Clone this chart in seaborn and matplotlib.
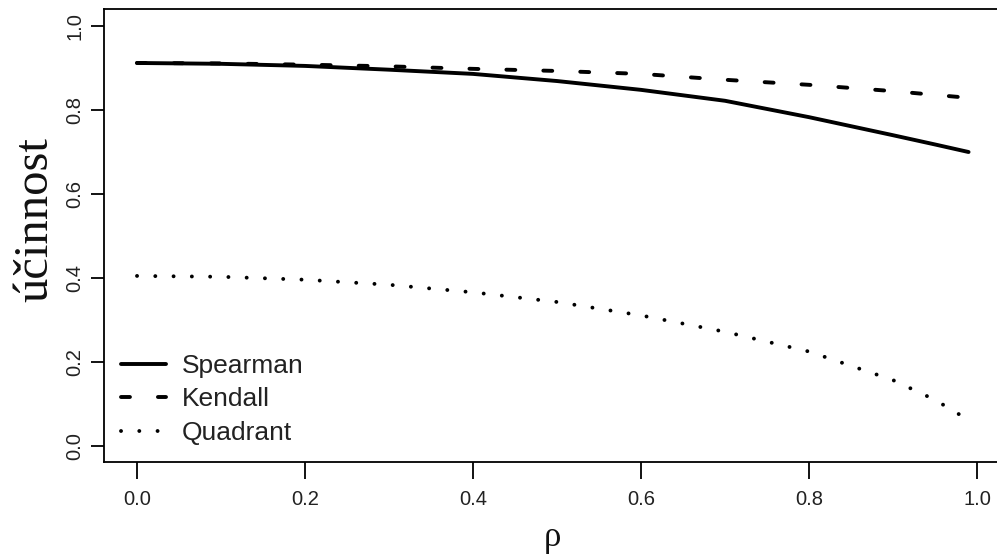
import numpy as np
import pandas as pd
import matplotlib
matplotlib.use("Agg")
import matplotlib.pyplot as plt
import seaborn as sns

# ---- data ----
rho = [0.0, 0.1, 0.2, 0.3, 0.4, 0.5, 0.6, 0.7, 0.8, 0.9, 0.95, 0.99]
spearman = [0.912, 0.910, 0.905, 0.896, 0.886, 0.869, 0.848, 0.822, 0.783, 0.740, 0.718, 0.700]
kendall = [0.912, 0.911, 0.908, 0.904, 0.898, 0.893, 0.886, 0.872, 0.860, 0.845, 0.836, 0.829]
quadrant = [0.405, 0.403, 0.396, 0.384, 0.366, 0.343, 0.311, 0.272, 0.225, 0.157, 0.110, 0.062]
methods = ["Spearman", "Kendall", "Quadrant"]
xticks = [0.0, 0.2, 0.4, 0.6, 0.8, 1.0]
xtick_labels = ["0.0", "0.2", "0.4", "0.6", "0.8", "1.0"]
yticks = [0.0, 0.2, 0.4, 0.6, 0.8, 1.0]
ytick_labels = ["0.0", "0.2", "0.4", "0.6", "0.8", "1.0"]
ylabel = "účinnost"
xlabel = "ρ"

df = pd.DataFrame({
    "rho": rho * 3,
    "value": spearman + kendall + quadrant,
    "method": [m for m, s in zip(methods, [spearman, kendall, quadrant]) for _ in s],
})

sns.set_style("ticks")
plt.rcParams["font.family"] = ["Liberation Sans", "DejaVu Sans"]

fig = plt.figure(figsize=(9.97, 5.55), dpi=100)
ax = fig.add_axes([104 / 997, 93 / 555, (1002 - 104) / 997, (462 - 9) / 555])

dash_map = {"Spearman": "", "Kendall": (2.3, 7.2), "Quadrant": (0.01, 4.69)}
sns.lineplot(data=df, x="rho", y="value", style="method", style_order=methods,
             dashes=dash_map, color="black", linewidth=2.8, ax=ax, legend=True)

for ln in ax.get_lines():
    ln.set_dash_capstyle("round")
    ln.set_solid_capstyle("round")
    ln.set_solid_joinstyle("round")

ax.set_xlim(-0.0393, 1.0298)
ax.set_ylim(-0.038, 1.0405)
ax.set_xticks(xticks)
ax.set_xticklabels(xtick_labels, fontsize=14.5)
ax.set_yticks(yticks)
ax.set_yticklabels(ytick_labels, fontsize=14.5, rotation=90, va="center")
ax.set_xlabel("")
ax.set_ylabel("")

for side in ["left", "bottom", "top", "right"]:
    ax.spines[side].set_visible(True)
    ax.spines[side].set_linewidth(1.3)
    ax.spines[side].set_color("black")

ax.tick_params(axis="x", length=12.2, width=1.3, pad=8, colors="black")
ax.tick_params(axis="y", length=9.4, width=1.3, pad=5, colors="black")
for t in ax.get_xticklabels() + ax.get_yticklabels():
    t.set_color("#222222")

handles, labels = ax.get_legend_handles_labels()
for h in handles:
    h.set_dash_capstyle("round")
    h.set_solid_capstyle("round")
leg = ax.legend(handles, labels, loc="upper left",
                bbox_to_anchor=(121 / 997, 1 - 354 / 555), bbox_transform=fig.transFigure,
                frameon=False, borderpad=0, borderaxespad=0, handlelength=1.7,
                handletextpad=0.6, labelspacing=0.36, fontsize=19)
for t in leg.get_texts():
    t.set_color("#222222")

fig.text(35 / 997, 1 - 220 / 555, ylabel, rotation=90, family=["Liberation Serif", "DejaVu Serif"],
         fontsize=35, ha="center", va="center", color="#111111")
fig.text(552 / 997, 1 - 546 / 555, xlabel, family=["Liberation Serif", "DejaVu Serif"],
         fontsize=25, ha="center", va="baseline", color="#111111")

fig.savefig("out.png", dpi=100, facecolor="white")
